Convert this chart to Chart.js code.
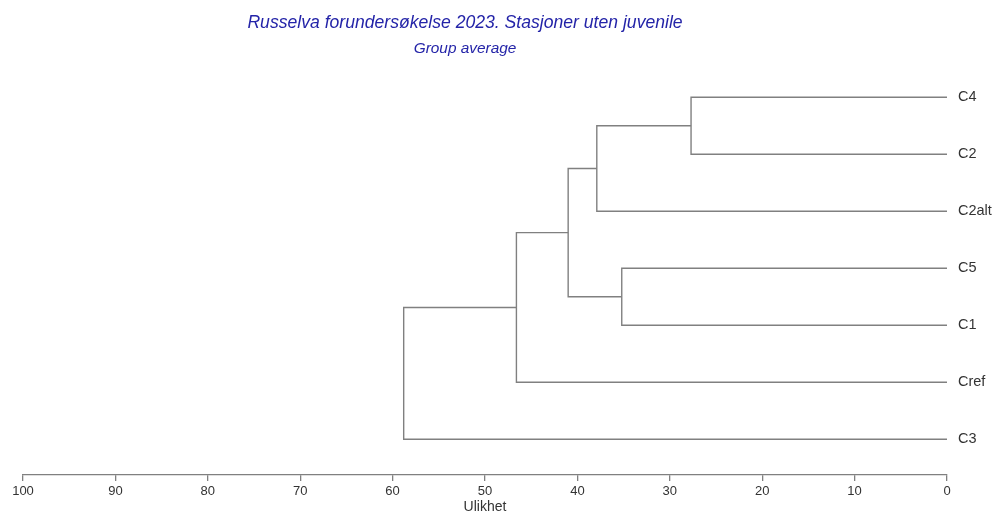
<!DOCTYPE html>
<html>
<head>
<meta charset="utf-8">
<script src="https://cdn.jsdelivr.net/npm/chart.js@4/dist/chart.umd.min.js"></script>
<style>
  html, body { margin: 0; padding: 0; background: #fff; }
  #wrap { position: relative; width: 993px; height: 513px; }
</style>
</head>
<body>
<div id="wrap"><canvas id="c"></canvas></div>
<script>
// Stations, listed top to bottom in leaf order
const leaves = ['C4', 'C2', 'C2alt', 'C5', 'C1', 'Cref', 'C3'];

// Group-average merges: [child A, child B, dissimilarity].
// Children < leaves.length are stations; larger indices refer to earlier merges.
const mergeA = [0, 7, 3, 8, 10, 11];
const mergeB = [1, 2, 4, 9, 5, 6];
const mergeHeight = [27.7, 37.9, 35.2, 41.0, 46.6, 58.8];

const xTicks = [0, 10, 20, 30, 40, 50, 60, 70, 80, 90, 100];

const title = 'Russelva forundersøkelse 2023. Stasjoner uten juvenile';
const subtitle = 'Group average';
const axisTitle = 'Ulikhet';

const lineGray = '#808080';
const textGray = '#333333';
const fontFamily = '"Liberation Sans", Arial, sans-serif';

// One bracket per merge; a node's row is the mean of its children's rows
const nodeY = leaves.map((_, i) => i);
const nodeH = leaves.map(() => 0);
const brackets = [];
for (let k = 0; k < mergeHeight.length; k++) {
  const a = mergeA[k], b = mergeB[k], h = mergeHeight[k];
  brackets.push({
    data: [
      { x: nodeH[a], y: nodeY[a] },
      { x: h, y: nodeY[a] },
      { x: h, y: nodeY[b] },
      { x: nodeH[b], y: nodeY[b] }
    ],
    showLine: true,
    borderColor: lineGray,
    borderWidth: 1.4,
    pointRadius: 0,
    pointHoverRadius: 0,
    fill: false,
    tension: 0
  });
  nodeY.push((nodeY[a] + nodeY[b]) / 2);
  nodeH.push(h);
}

const headerPlugin = {
  id: 'header',
  afterDraw(chart) {
    const ctx = chart.ctx;
    ctx.save();
    ctx.fillStyle = '#2424a8';
    ctx.textAlign = 'center';
    ctx.textBaseline = 'middle';
    ctx.font = 'italic 17.6px ' + fontFamily;
    ctx.fillText(title, 465, 23);
    ctx.font = 'italic 15.4px ' + fontFamily;
    ctx.fillText(subtitle, 465, 49);
    ctx.restore();
  }
};

new Chart(document.getElementById('c'), {
  type: 'scatter',
  data: { datasets: brackets },
  options: {
    responsive: true,
    maintainAspectRatio: false,
    animation: false,
    layout: { padding: { top: 60, left: 23, right: 0, bottom: 0 } },
    plugins: {
      legend: { display: false },
      tooltip: { enabled: false },
      title: { display: false }
    },
    scales: {
      x: {
        type: 'linear',
        position: 'bottom',
        reverse: true,
        min: 0,
        max: 100,
        afterBuildTicks(scale) { scale.ticks = xTicks.map(v => ({ value: v })); },
        afterFit(scale) { scale.height = 38; },
        ticks: {
          color: textGray,
          padding: 3,
          maxRotation: 0,
          autoSkip: false,
          font: { family: fontFamily, size: 13 }
        },
        grid: {
          drawOnChartArea: false,
          drawTicks: true,
          tickLength: 6,
          color: lineGray,
          lineWidth: 1.3
        },
        border: { display: true, color: lineGray, width: 1.3 },
        title: {
          display: true,
          text: axisTitle,
          color: textGray,
          padding: 0,
          font: { family: fontFamily, size: 14, lineHeight: 0.8 }
        }
      },
      y: {
        type: 'linear',
        position: 'right',
        reverse: true,
        min: -0.654,
        max: 6.626,
        afterBuildTicks(scale) { scale.ticks = leaves.map((_, i) => ({ value: i })); },
        afterFit(scale) { scale.width = 46; },
        ticks: {
          color: textGray,
          padding: 11,
          autoSkip: false,
          font: { family: fontFamily, size: 14.5 },
          callback: (v) => leaves[v] ?? ''
        },
        grid: { display: false, drawTicks: false },
        border: { display: false }
      }
    }
  },
  plugins: [headerPlugin]
});
</script>
</body>
</html>
